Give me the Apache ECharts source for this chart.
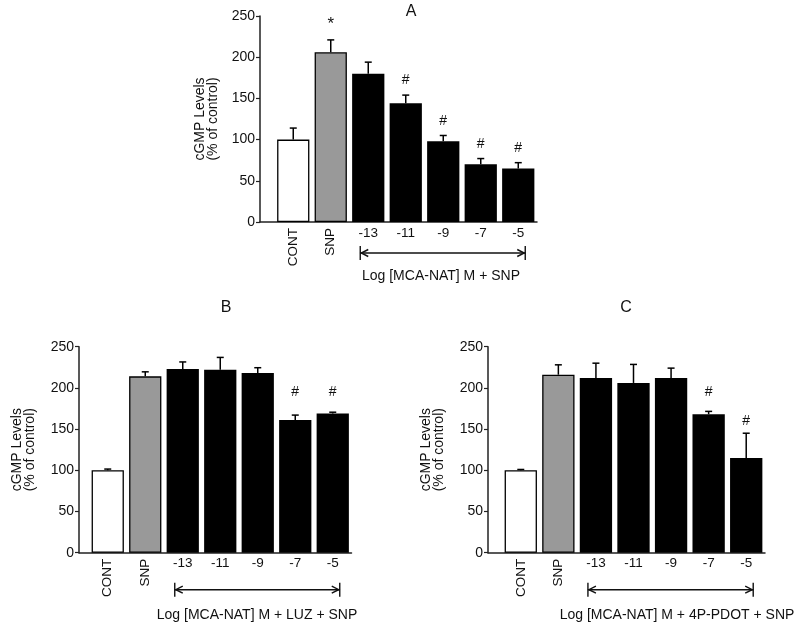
<!DOCTYPE html>
<html>
<head>
<meta charset="utf-8">
<script src="https://cdn.jsdelivr.net/npm/echarts@6/dist/echarts.min.js"></script>
<style>
html,body{margin:0;padding:0;background:#fff;}
#chart{width:800px;height:629px;}
</style>
</head>
<body>
<div id="chart"></div>
<script>
// ---------- data ----------
const categories = ['CONT', 'SNP', '-13', '-11', '-9', '-7', '-5'];
const yTicks = [0, 50, 100, 150, 200, 250];

const valuesA = [100, 206, 180, 144, 98, 70, 65];
const errTopA = [114, 221, 194, 154, 105, 77, 72];
const marksA  = ['', '*', '', '#', '#', '#', '#'];
const markYA  = [null, 240, null, 172, 122, 95, 90];

const valuesB = [100, 214, 223, 222, 218, 161, 169];
const errTopB = [101.5, 219.5, 231.5, 237, 224.5, 167, 170.5];
const marksB  = ['', '', '', '', '', '#', '#'];
const markYB  = [null, null, null, null, null, 195, 195];

const valuesC = [100, 216, 212, 206, 212, 168, 115];
const errTopC = [101, 228, 230, 228.5, 224, 171.5, 145];
const marksC  = ['', '', '', '', '', '#', '#'];
const markYC  = [null, null, null, null, null, 195, 160];

const titles = ['A', 'B', 'C'];
const groupLabels = ['Log [MCA-NAT] M + SNP', 'Log [MCA-NAT] M + LUZ + SNP', 'Log [MCA-NAT] M + 4P-PDOT + SNP'];
const yName = 'cGMP Levels\n(% of control)';

// ---------- layout ----------
const FONT = "'Liberation Sans', Arial, sans-serif";
const panels = [
  {values: valuesA, err: errTopA, marks: marksA, markY: markYA,
   frame: {left: 260, right: 263, top: 16, bottom: 407},
   bars:  {left: 274.5, right: 263, top: 16, bottom: 407},
   nameGap: 40, title: [411, 12], arrowDy: 31, label: [441, 276]},
  {values: valuesB, err: errTopB, marks: marksB, markY: markYB,
   frame: {left: 79, right: 448.5, top: 346.7, bottom: 76.3},
   bars:  {left: 89, right: 448.5, top: 346.7, bottom: 76.3},
   nameGap: 42, title: [226, 308], arrowDy: 37, label: [257, 615]},
  {values: valuesC, err: errTopC, marks: marksC, markY: markYC,
   frame: {left: 488, right: 35, top: 346.7, bottom: 76.3},
   bars:  {left: 502, right: 35, top: 346.7, bottom: 76.3},
   nameGap: 42, title: [626, 308], arrowDy: 37, label: [677, 615]}
];

const barColors = ['#ffffff', '#999999', '#000000', '#000000', '#000000', '#000000', '#000000'];

const grid = [], xAxis = [], yAxis = [], series = [];

panels.forEach((p, k) => {
  const gFrame = 2 * k, gBars = 2 * k + 1;
  grid.push(Object.assign({}, p.frame));
  grid.push(Object.assign({}, p.bars));

  // frame x axis (baseline)
  xAxis.push({gridIndex: gFrame, type: 'value', min: 0, max: 1, position: 'bottom',
    axisLine: {show: true, lineStyle: {color: '#222', width: 1.5}},
    axisTick: {show: false}, axisLabel: {show: false}, splitLine: {show: false}});
  // bar category axis - rotated labels (CONT, SNP)
  xAxis.push({gridIndex: gBars, type: 'category', data: categories, position: 'bottom',
    axisLine: {show: false}, axisTick: {show: false}, splitLine: {show: false},
    axisLabel: {rotate: 90, margin: 6, fontSize: 13.5, fontFamily: FONT, color: '#111',
      interval: 0, formatter: (v, i) => (i < 2 ? v : '')}});
  // bar category axis - horizontal labels (-13 ... -5)
  xAxis.push({gridIndex: gBars, type: 'category', data: categories, position: 'bottom',
    axisLine: {show: false}, axisTick: {show: false}, splitLine: {show: false},
    axisLabel: {margin: 4, fontSize: 13.5, fontFamily: FONT, color: '#111',
      interval: 0, formatter: (v, i) => (i >= 2 ? v : '')}});

  yAxis.push({gridIndex: gFrame, type: 'value', min: 0, max: 250, interval: 50,
    name: yName, nameLocation: 'middle', nameRotate: 90, nameGap: p.nameGap,
    nameTextStyle: {fontSize: 14, fontFamily: FONT, color: '#111', lineHeight: 13},
    axisLine: {show: true, lineStyle: {color: '#222', width: 1.5}},
    axisTick: {show: true, inside: false, length: 4, lineStyle: {color: '#222', width: 1.2}},
    axisLabel: {fontSize: 14, fontFamily: FONT, color: '#111', margin: 5,
      formatter: v => (yTicks.indexOf(v) >= 0 ? String(v) : '')},
    splitLine: {show: false}});
  yAxis.push({gridIndex: gBars, type: 'value', min: 0, max: 250, interval: 50, show: false});

  const xBar = 3 * k + 2, yBar = 2 * k + 1;

  series.push({type: 'bar', xAxisIndex: xBar, yAxisIndex: yBar, barWidth: '86%',
    animation: false, silent: true,
    data: p.values.map((v, i) => ({value: v, itemStyle: {color: barColors[i],
      borderColor: '#000', borderWidth: i < 2 ? 1.3 : 0}}))});

  series.push({type: 'custom', xAxisIndex: xBar, yAxisIndex: yBar, animation: false, silent: true, z: 5,
    data: p.values.map((v, i) => [i, v, p.err[i]]),
    renderItem: (params, api) => {
      const b = api.coord([api.value(0), api.value(1)]);
      const t = api.coord([api.value(0), api.value(2)]);
      const st = {stroke: '#000', lineWidth: 1.5};
      return {type: 'group', children: [
        {type: 'line', shape: {x1: b[0], y1: b[1], x2: t[0], y2: t[1]}, style: st},
        {type: 'line', shape: {x1: t[0] - 3.5, y1: t[1], x2: t[0] + 3.5, y2: t[1]}, style: st}
      ]};
    }});

  series.push({type: 'custom', xAxisIndex: xBar, yAxisIndex: yBar, animation: false, silent: true, z: 6,
    data: p.marks.map((m, i) => [i, p.markY[i] == null ? 0 : p.markY[i], m]).filter(d => d[2] !== ''),
    renderItem: (params, api) => {
      const c = api.coord([api.value(0), api.value(1)]);
      const m = p.marks[api.value(0)];
      return {type: 'text', x: c[0], y: c[1], style: {text: m, fill: '#111',
        font: (m === '*' ? '17px ' : '14px ') + FONT, align: 'center', verticalAlign: 'middle'}};
    }});
});

const chart = echarts.init(document.getElementById('chart'), null, {renderer: 'canvas'});
chart.setOption({animation: false, backgroundColor: '#fff', grid, xAxis, yAxis, series});

// titles, arrows and group labels (arrows positioned through the category axes)
const graphic = [];
panels.forEach((p, k) => {
  graphic.push({type: 'text', x: p.title[0], y: p.title[1], style: {text: titles[k],
    font: '16px ' + FONT, fill: '#111', align: 'center', verticalAlign: 'middle'}});
  const xi = 3 * k + 2, yi = 2 * k + 1;
  const x1 = chart.convertToPixel({xAxisIndex: xi}, '-13') - 8;
  const x2 = chart.convertToPixel({xAxisIndex: xi}, '-5') + 7;
  const y0 = chart.convertToPixel({yAxisIndex: yi}, 0);
  const y = y0 + p.arrowDy;
  const st = {stroke: '#111', lineWidth: 1.4};
  graphic.push({type: 'line', shape: {x1: x1, y1: y, x2: x2, y2: y}, style: st});
  graphic.push({type: 'line', shape: {x1: x1, y1: y - 7, x2: x1, y2: y + 7}, style: st});
  graphic.push({type: 'line', shape: {x1: x2, y1: y - 7, x2: x2, y2: y + 7}, style: st});
  graphic.push({type: 'polyline', shape: {points: [[x1 + 8, y - 3.5], [x1 + 1, y], [x1 + 8, y + 3.5]]}, style: st});
  graphic.push({type: 'polyline', shape: {points: [[x2 - 8, y - 3.5], [x2 - 1, y], [x2 - 8, y + 3.5]]}, style: st});
  graphic.push({type: 'text', x: p.label[0], y: p.label[1], style: {text: groupLabels[k],
    font: '14px ' + FONT, fill: '#111', align: 'center', verticalAlign: 'middle'}});
});
chart.setOption({graphic});
</script>
</body>
</html>
